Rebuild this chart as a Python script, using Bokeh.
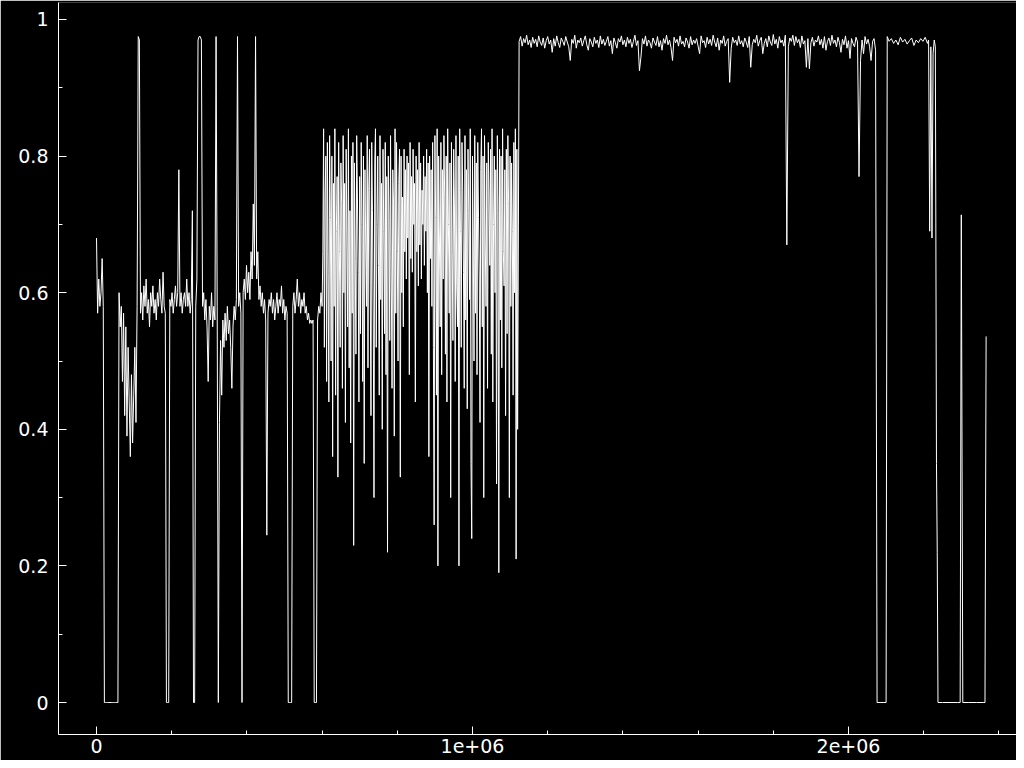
import numpy as np
from bokeh.plotting import figure
from bokeh.models import FixedTicker, Range1d
from bokeh.embed import file_html
from bokeh.resources import INLINE

# ---------------- data (x in thousands of steps) ----------------
early_start = 0.0
early_step = 3.0
early_y = [
    0.68, 0.57, 0.62, 0.58, 0.60, 0.65, 0.58, 0.0, 0.0, 0.0,
    0.0, 0.0, 0.0, 0.0, 0.0, 0.0, 0.0, 0.0, 0.0, 0.0,
    0.60, 0.55, 0.58, 0.47, 0.57, 0.42, 0.55, 0.39, 0.52, 0.44,
    0.36, 0.48, 0.38, 0.45, 0.52, 0.41, 0.58, 0.975, 0.97, 0.57,
    0.60, 0.56, 0.61, 0.58, 0.62, 0.57, 0.59, 0.55, 0.60, 0.58,
    0.61, 0.57, 0.59, 0.56, 0.60, 0.58, 0.62, 0.59, 0.57, 0.63,
    0.58, 0.57, 0.0, 0.0, 0.0, 0.59, 0.58, 0.60, 0.57, 0.59,
    0.61, 0.58, 0.60, 0.78, 0.58, 0.60, 0.57, 0.59, 0.60, 0.58,
    0.62, 0.58, 0.60, 0.57, 0.59, 0.72, 0.0, 0.0, 0.58, 0.62,
    0.97, 0.975, 0.975, 0.97, 0.58, 0.60, 0.56, 0.59, 0.55, 0.47,
    0.58, 0.56, 0.60, 0.55, 0.58, 0.56, 0.975, 0.58, 0.0, 0.41,
    0.53, 0.45, 0.56, 0.52, 0.57, 0.53, 0.58, 0.54, 0.56, 0.52,
    0.46, 0.55, 0.58, 0.56, 0.59, 0.975, 0.58, 0.60, 0.57, 0.0,
    0.60, 0.62, 0.59, 0.64, 0.60, 0.63, 0.59, 0.66, 0.62, 0.73,
    0.64, 0.975, 0.62, 0.66, 0.59, 0.61, 0.58, 0.60, 0.57, 0.59,
    0.56, 0.245, 0.57, 0.59, 0.58, 0.60, 0.57, 0.59, 0.56, 0.58,
    0.60, 0.57, 0.59, 0.58, 0.61, 0.57, 0.59, 0.56, 0.58, 0.57,
    0.0, 0.0, 0.0, 0.0, 0.58, 0.60, 0.57, 0.59, 0.62, 0.58,
    0.60, 0.57, 0.59, 0.58, 0.60, 0.57, 0.58, 0.56, 0.57, 0.555,
    0.56, 0.555, 0.56, 0.0, 0.0, 0.0, 0.56, 0.58, 0.57, 0.60,
]

noise_start = 600.0
noise_step = 2.0
noise_y = [
    0.58, 0.66, 0.84, 0.52, 0.74, 0.80, 0.47, 0.82, 0.63, 0.44,
    0.83, 0.71, 0.50, 0.80, 0.36, 0.76, 0.58, 0.84, 0.45, 0.69,
    0.77, 0.33, 0.82, 0.66, 0.52, 0.79, 0.73, 0.46, 0.83, 0.60,
    0.76, 0.41, 0.81, 0.68, 0.55, 0.84, 0.49, 0.72, 0.38, 0.80,
    0.57, 0.82, 0.23, 0.79, 0.65, 0.51, 0.83, 0.74, 0.63, 0.44,
    0.77, 0.54, 0.82, 0.70, 0.47, 0.80, 0.35, 0.78, 0.67, 0.58,
    0.83, 0.49, 0.75, 0.81, 0.61, 0.42, 0.82, 0.72, 0.56, 0.30,
    0.79, 0.84, 0.52, 0.70, 0.80, 0.64, 0.45, 0.83, 0.59, 0.76,
    0.40, 0.81, 0.69, 0.54, 0.82, 0.48, 0.77, 0.22, 0.80, 0.71,
    0.53, 0.83, 0.62, 0.46, 0.78, 0.73, 0.39, 0.84, 0.57, 0.82,
    0.66, 0.50, 0.76, 0.81, 0.33, 0.80, 0.60, 0.74, 0.55, 0.81,
    0.66, 0.78, 0.62, 0.80, 0.68, 0.79, 0.48, 0.82, 0.65, 0.77,
    0.63, 0.81, 0.70, 0.76, 0.44, 0.80, 0.66, 0.78, 0.61, 0.82,
    0.67, 0.79, 0.62, 0.75, 0.70, 0.80, 0.64, 0.77, 0.69, 0.81,
    0.60, 0.79, 0.36, 0.80, 0.65, 0.78, 0.58, 0.82, 0.52, 0.26,
    0.83, 0.71, 0.45, 0.84, 0.20, 0.80, 0.68, 0.55, 0.82, 0.48,
    0.78, 0.62, 0.83, 0.74, 0.51, 0.80, 0.44, 0.84, 0.70, 0.57,
    0.79, 0.30, 0.82, 0.66, 0.53, 0.81, 0.73, 0.47, 0.83, 0.61,
    0.55, 0.80, 0.20, 0.84, 0.69, 0.52, 0.82, 0.75, 0.63, 0.46,
    0.83, 0.56, 0.78, 0.43, 0.81, 0.72, 0.59, 0.84, 0.35, 0.24,
    0.80, 0.68, 0.50, 0.83, 0.57, 0.79, 0.48, 0.82, 0.71, 0.62,
    0.41, 0.78, 0.84, 0.55, 0.80, 0.30, 0.83, 0.67, 0.58, 0.79,
    0.46, 0.82, 0.74, 0.64, 0.81, 0.51, 0.84, 0.44, 0.70, 0.80,
    0.60, 0.78, 0.32, 0.83, 0.72, 0.19, 0.81, 0.56, 0.80, 0.49,
    0.84, 0.66, 0.61, 0.78, 0.42, 0.81, 0.54, 0.83, 0.73, 0.30,
    0.80, 0.58, 0.79, 0.69, 0.45, 0.82, 0.60, 0.84, 0.21, 0.81,
    0.40,
]

plateau_start = 1124.0
plateau_step = 4.0
plateau_y = [
    0.968, 0.975, 0.961, 0.972, 0.966, 0.977, 0.963, 0.970, 0.959, 0.974,
    0.965, 0.971, 0.960, 0.976, 0.967, 0.962, 0.973, 0.958, 0.969, 0.975,
    0.964, 0.970, 0.952, 0.972, 0.961, 0.976, 0.966, 0.959, 0.973, 0.968,
    0.962, 0.975, 0.967, 0.960, 0.940, 0.971, 0.965, 0.977, 0.958, 0.970,
    0.966, 0.973, 0.961, 0.969, 0.976, 0.963, 0.955, 0.972, 0.967, 0.960,
    0.974, 0.965, 0.970, 0.959, 0.976, 0.964, 0.971, 0.962, 0.968, 0.975,
    0.961, 0.969, 0.950, 0.973, 0.966, 0.958, 0.972, 0.967, 0.976, 0.963,
    0.970, 0.960, 0.974, 0.965, 0.971, 0.959, 0.968, 0.977, 0.962, 0.969,
    0.925, 0.945, 0.972, 0.964, 0.976, 0.961, 0.970, 0.966, 0.958, 0.973,
    0.967, 0.962, 0.975, 0.960, 0.969, 0.955, 0.972, 0.965, 0.977, 0.963,
    0.970, 0.959, 0.940, 0.974, 0.966, 0.971, 0.961, 0.976, 0.964, 0.968,
    0.960, 0.973, 0.967, 0.958, 0.975, 0.963, 0.970, 0.965, 0.972, 0.961,
    0.950, 0.976, 0.966, 0.969, 0.959, 0.974, 0.964, 0.971, 0.962, 0.977,
    0.967, 0.960, 0.973, 0.955, 0.970, 0.965, 0.976, 0.961, 0.968, 0.972,
    0.908, 0.958, 0.974, 0.966, 0.970, 0.962, 0.976, 0.964, 0.969, 0.960,
    0.973, 0.967, 0.959, 0.975, 0.930, 0.963, 0.971, 0.966, 0.977, 0.961,
    0.969, 0.974, 0.950, 0.965, 0.972, 0.960, 0.976, 0.967, 0.962, 0.978,
    0.964, 0.971, 0.958, 0.975, 0.966, 0.970, 0.961, 0.977, 0.670, 0.960,
    0.973, 0.968, 0.977, 0.962, 0.975, 0.966, 0.971, 0.959, 0.976, 0.964,
    0.969, 0.930, 0.972, 0.928, 0.966, 0.974, 0.961, 0.970, 0.967, 0.976,
    0.963, 0.971, 0.958, 0.975, 0.955, 0.968, 0.973, 0.962, 0.977, 0.965,
    0.970, 0.960, 0.974, 0.966, 0.952, 0.971, 0.963, 0.976, 0.958, 0.969,
    0.943, 0.972, 0.965, 0.960, 0.974, 0.967, 0.770, 0.940, 0.970, 0.950,
    0.975, 0.964, 0.971, 0.961, 0.940, 0.968, 0.972, 0.955,
]

tail_x = [2076, 2084, 2092, 2100, 2103, 2108, 2114, 2120, 2126,
          2132, 2138, 2144, 2150, 2156, 2162, 2168, 2174, 2180, 2186,
          2192, 2198, 2204, 2210, 2213, 2216, 2219, 2222, 2225, 2228,
          2231, 2234, 2236, 2238, 2250, 2270, 2290, 2297, 2300, 2304,
          2320, 2340, 2360, 2363, 2366]
tail_y = [0.0, 0.0, 0.0, 0.0, 0.975, 0.968, 0.972, 0.965, 0.970,
          0.963, 0.974, 0.967, 0.971, 0.964, 0.969, 0.973, 0.962, 0.970, 0.966,
          0.972, 0.968, 0.974, 0.965, 0.970, 0.69, 0.96, 0.68, 0.95, 0.97,
          0.96, 0.35, 0.22, 0.0, 0.0, 0.0, 0.0, 0.0, 0.714, 0.0,
          0.0, 0.0, 0.0, 0.0, 0.536]

x_ticks = [0, 1000000, 2000000]
x_tick_labels = ["0", "1e+06", "2e+06"]
x_minor_ticks = [200000, 400000, 600000, 800000, 1200000, 1400000, 1600000,
                 1800000, 2200000, 2400000]
y_ticks = [0, 0.2, 0.4, 0.6, 0.8, 1.0]
y_tick_labels = ["0", "0.2", "0.4", "0.6", "0.8", "1"]
y_minor_ticks = [0.1, 0.3, 0.5, 0.7, 0.9]

# ---------------- assemble series ----------------
xs = np.concatenate([
    early_start + early_step * np.arange(len(early_y)),
    noise_start + noise_step * np.arange(len(noise_y)),
    plateau_start + plateau_step * np.arange(len(plateau_y)),
    np.array(tail_x, dtype=float),
]) * 1000.0
ys = np.concatenate([early_y, noise_y, plateau_y, tail_y])

p = figure(width=1016, height=760, output_backend="svg", toolbar_location=None,
           x_range=Range1d(-101064, 2446809), y_range=Range1d(-0.04685, 1.02489),
           min_border_left=58, min_border_right=0, min_border_top=2,
           min_border_bottom=26)
p.background_fill_color = "black"
p.border_fill_color = "black"
p.outline_line_color = None
p.grid.visible = False

p.line(xs, ys, line_color="white", line_width=1, line_join="bevel")

for ax in (p.xaxis[0], p.yaxis[0]):
    ax.axis_line_color = "white"
    ax.axis_line_width = 1
    ax.major_tick_line_color = "white"
    ax.minor_tick_line_color = "white"
    ax.major_tick_in = 8
    ax.major_tick_out = 0
    ax.minor_tick_in = 4
    ax.minor_tick_out = 0
    ax.major_label_text_color = "white"
    ax.major_label_text_font = "DejaVu Sans"
    ax.major_label_text_font_size = "19px"

p.xaxis[0].ticker = FixedTicker(ticks=x_ticks, minor_ticks=x_minor_ticks)
p.xaxis[0].major_label_overrides = dict(zip(x_ticks, x_tick_labels))
p.xaxis[0].major_label_standoff = 4
p.yaxis[0].ticker = FixedTicker(ticks=y_ticks, minor_ticks=y_minor_ticks)
p.yaxis[0].major_label_overrides = dict(zip(y_ticks, y_tick_labels))
p.yaxis[0].major_label_standoff = 10

open("out.html", "w").write(file_html(p, INLINE))
